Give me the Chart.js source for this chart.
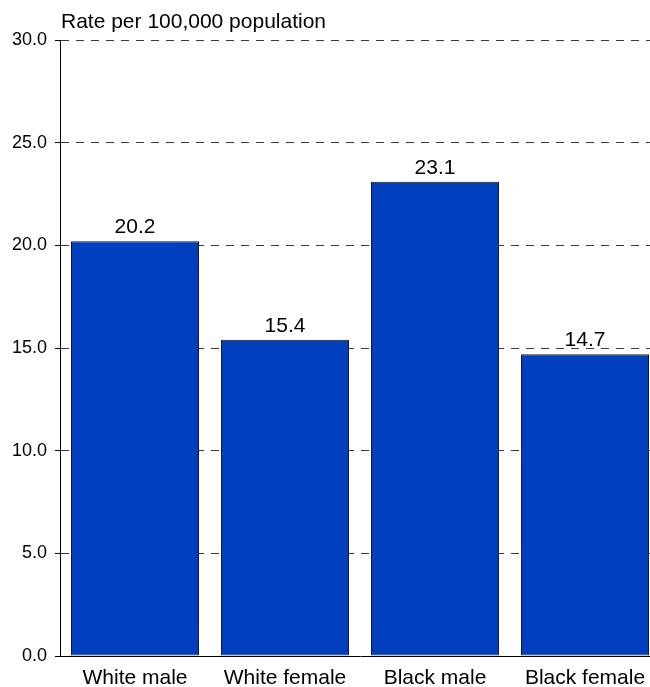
<!DOCTYPE html>
<html>
<head>
<meta charset="utf-8">
<script src="https://cdn.jsdelivr.net/npm/chart.js@4/dist/chart.umd.min.js"></script>
<style>
html, body { margin: 0; padding: 0; overflow: hidden; background: #fff; }
#wrap { position: absolute; left: 0; top: 0; width: 660px; height: 687px; }
</style>
</head>
<body>
<div id="wrap"><canvas id="c" width="660" height="687"></canvas></div>
<script>
const categories = ["White male", "White female", "Black male", "Black female"];
const rates = [20.2, 15.4, 23.1, 14.7];
const yAxisTitle = "Rate per 100,000 population";
const yMin = 0, yMax = 30, yStep = 5;

const FONT = "'Liberation Sans', Arial, sans-serif";

const labelPlugin = {
  id: 'labels',
  afterDatasetsDraw(chart) {
    const ctx = chart.ctx;
    const meta = chart.getDatasetMeta(0);
    ctx.save();
    ctx.font = "21px " + FONT;
    ctx.fillStyle = "#000";
    ctx.textAlign = "center";
    ctx.textBaseline = "alphabetic";
    meta.data.forEach((bar, i) => {
      ctx.fillText(rates[i].toFixed(1), bar.x, bar.y - 8);
    });
    ctx.restore();
  },
  afterDraw(chart) {
    const ctx = chart.ctx;
    ctx.save();
    ctx.font = "21px " + FONT;
    ctx.fillStyle = "#000";
    ctx.textAlign = "left";
    ctx.textBaseline = "alphabetic";
    ctx.fillText(yAxisTitle, chart.chartArea.left + 1, 28);
    ctx.restore();
  }
};

new Chart(document.getElementById('c'), {
  type: 'bar',
  data: {
    labels: categories,
    datasets: [{
      data: rates,
      backgroundColor: '#0040bf',
      borderColor: '#1a1a1a',
      borderWidth: 1,
      borderSkipped: false,
      barPercentage: 1,
      categoryPercentage: 128 / 150
    }]
  },
  options: {
    responsive: false,
    animation: false,
    devicePixelRatio: 1,
    layout: { padding: { top: 40, left: 0, right: 0, bottom: 0 } },
    plugins: { legend: { display: false }, tooltip: { enabled: false }, title: { display: false } },
    scales: {
      x: {
        afterFit(s) { s.height = 31; },
        grid: { display: false, drawTicks: false },
        border: { display: true, color: '#000', width: 1 },
        ticks: { font: { family: FONT, size: 21 }, color: '#000', padding: 10, maxRotation: 0, autoSkip: false }
      },
      y: {
        min: yMin, max: yMax,
        afterFit(s) { s.width = 60; },
        grid: {
          color: '#3a3a3a',
          tickBorderDash: [1, 0],
          tickColor: '#000',
          tickLength: 5,
          drawTicks: true
        },
        border: { display: true, color: '#000', width: 1, dash: [8, 7] },
        ticks: {
          stepSize: yStep,
          font: { family: FONT, size: 18 },
          color: '#000',
          padding: 8,
          callback: v => Number(v).toFixed(1)
        }
      }
    }
  },
  plugins: [labelPlugin]
});
</script>
</body>
</html>
